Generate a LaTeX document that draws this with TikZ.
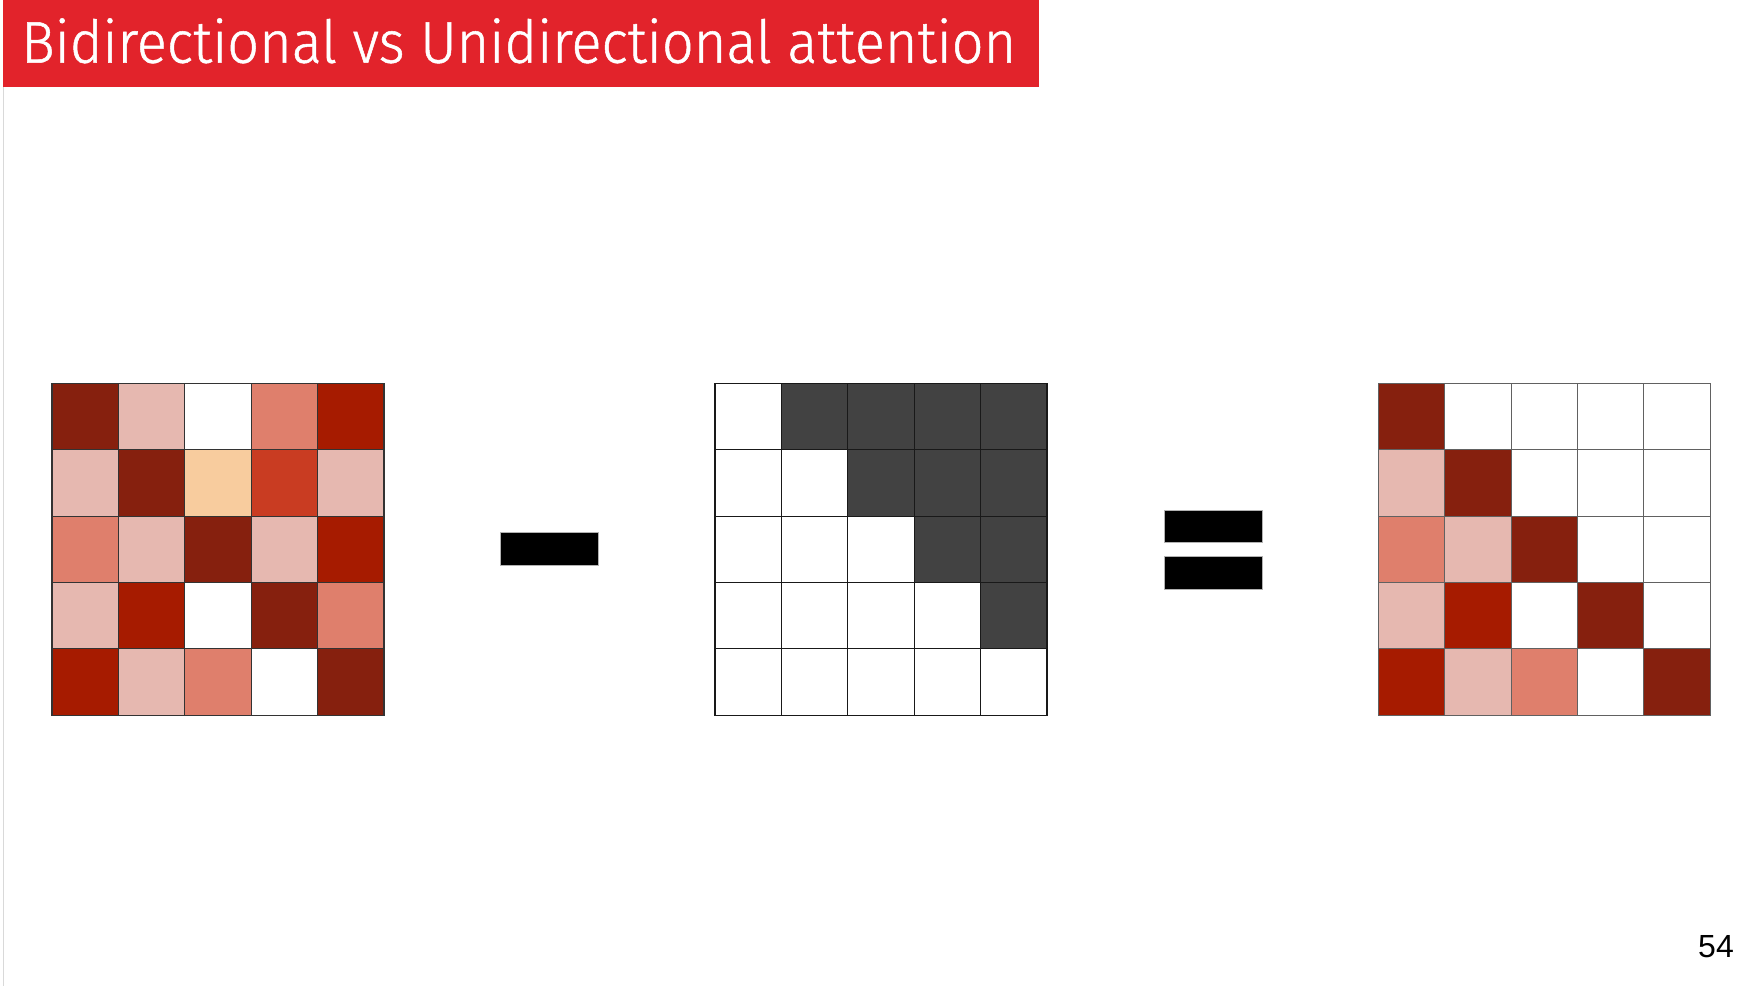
\documentclass[tikz,border=0pt]{standalone}
\usepackage{fontspec}
\usepackage{graphicx}
\newfontfamily\titlefont{Fira Sans Light}[FakeBold=0.9]
\newfontfamily\numfont{Liberation Sans}
\definecolor{titlered}{HTML}{E2232B}
\definecolor{cD}{HTML}{86200E}
\definecolor{cP}{HTML}{E6B8B0}
\definecolor{cS}{HTML}{DF7F6C}
\definecolor{cR}{HTML}{A61B00}
\definecolor{cE}{HTML}{F8CC9E}
\definecolor{cO}{HTML}{C93C22}
\definecolor{cG}{HTML}{424242}
\definecolor{cW}{HTML}{FFFFFF}
\tikzset{
  cell/.style={minimum size=66.4pt, inner sep=0pt, outer sep=0pt, anchor=north west},
  gridline/.style={line width=1.1pt},
  bar/.style={fill=black, draw=black!30, line width=0.6pt, minimum width=98pt, minimum height=32.5pt, inner sep=0pt}
}
\begin{document}
\begin{tikzpicture}[x=1pt,y=-1pt]
\useasboundingbox (0,0) rectangle (1757,986);
\fill[white] (0,0) rectangle (1757,986);
% left edge line
\draw[black!15, line width=1.5pt] (3.5,87) -- (3.5,986);
% title
\node[fill=titlered, minimum width=1036pt, minimum height=87pt, inner sep=0pt, anchor=north west] (titlebox) at (3,0) {};
\node[anchor=base west, inner sep=0pt, text=white] (title) at (21,62.7)
  {\resizebox{995pt}{\height}{\titlefont\fontsize{59}{60}\selectfont Bidirectional vs Unidirectional attention}};
% matrix 1
\foreach \c [count=\k from 0] in {D,P,W,S,R, P,D,E,O,P, S,P,D,P,R, P,R,W,D,S, R,P,S,W,D}{
  \pgfmathtruncatemacro{\col}{mod(\k,5)}
  \pgfmathtruncatemacro{\row}{int(\k/5)}
  \node[cell, fill=c\c] (a-\row-\col) at ({52+66.4*\col},{383.3+66.4*\row}) {};
}
% matrix 2
\foreach \c [count=\k from 0] in {W,G,G,G,G, W,W,G,G,G, W,W,W,G,G, W,W,W,W,G, W,W,W,W,W}{
  \pgfmathtruncatemacro{\col}{mod(\k,5)}
  \pgfmathtruncatemacro{\row}{int(\k/5)}
  \node[cell, fill=c\c] (b-\row-\col) at ({715+66.4*\col},{383.3+66.4*\row}) {};
}
% matrix 3
\foreach \c [count=\k from 0] in {D,W,W,W,W, P,D,W,W,W, S,P,D,W,W, P,R,W,D,W, R,P,S,W,D}{
  \pgfmathtruncatemacro{\col}{mod(\k,5)}
  \pgfmathtruncatemacro{\row}{int(\k/5)}
  \node[cell, fill=c\c] (c-\row-\col) at ({1378.3+66.4*\col},{383.3+66.4*\row}) {};
}
% cell borders on top
\foreach \r in {0,...,4}{
  \foreach \q in {0,...,4}{
    \draw[gridline, draw=black!80] (a-\r-\q.north west) rectangle (a-\r-\q.south east);
    \draw[gridline, draw=black!90] (b-\r-\q.north west) rectangle (b-\r-\q.south east);
    \draw[gridline, draw=black!62] (c-\r-\q.north west) rectangle (c-\r-\q.south east);
  }
}
% operators
\node[bar] (minus) at (549.5,548.8) {};
\node[bar] (eqtop) at (1213.3,526.2) {};
\node[bar] (eqbot) at (1213.3,572.8) {};
% page number
\node[anchor=base east, inner sep=0pt] (pagenum) at (1734,957) {\numfont\fontsize{32}{34}\selectfont 54};
\end{tikzpicture}
\end{document}
